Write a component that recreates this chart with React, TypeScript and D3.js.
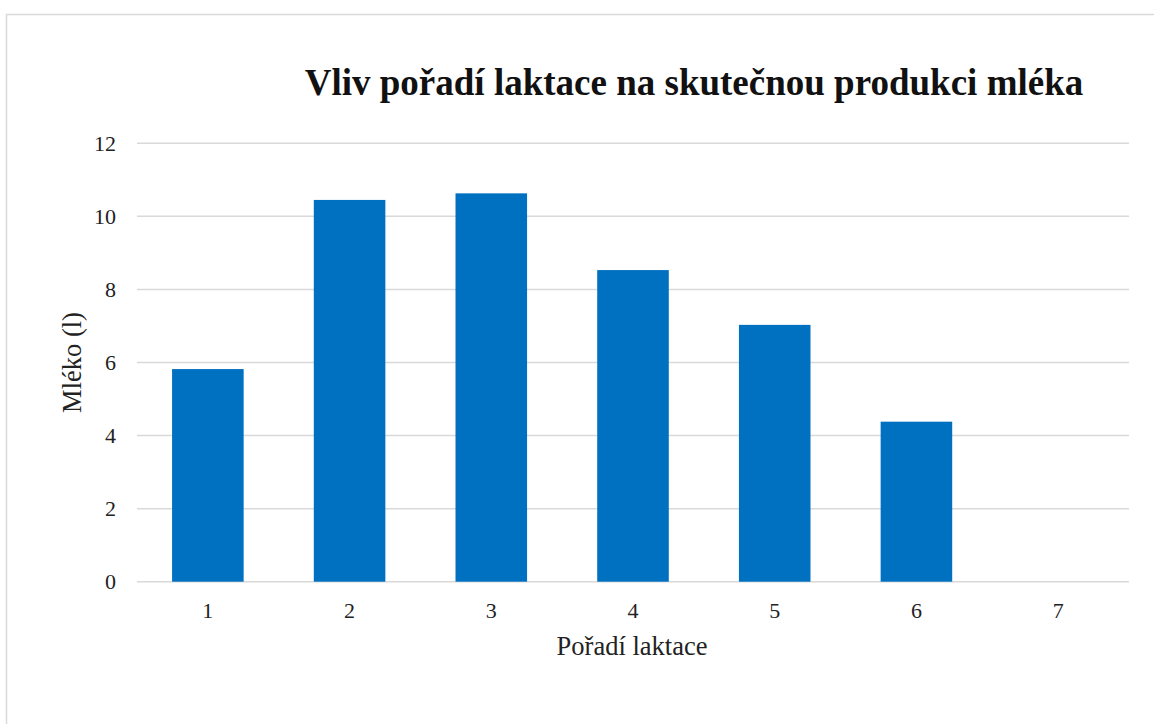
import React, { useEffect, useRef } from 'react';
import * as d3 from 'd3';

// Chart data
const categories = ['1', '2', '3', '4', '5', '6', '7'];
const milkValues = [5.82, 10.45, 10.63, 8.53, 7.03, 4.38, 0];
const yTicks = [0, 2, 4, 6, 8, 10, 12];

const titleText = 'Vliv pořadí laktace na skutečnou produkci mléka';
const xTitle = 'Pořadí laktace';
const yTitle = 'Mléko (l)';

const App = () => {
  const ref = useRef<SVGSVGElement>(null);

  useEffect(() => {
    const svg = d3.select(ref.current);
    svg.selectAll('*').remove();

    const font = '"Liberation Serif", "Times New Roman", serif';
    const left = 137;
    const right = 1129;
    const top = 143.3;
    const bottom = 581.7;

    // outer frame
    svg.append('rect')
      .attr('x', 6.5)
      .attr('y', 14.5)
      .attr('width', 1160)
      .attr('height', 720)
      .attr('fill', 'none')
      .attr('stroke', '#d9d9d9')
      .attr('stroke-width', 1.5);

    const x = d3.scaleBand()
      .domain(categories)
      .range([left, right])
      .paddingInner(0.495)
      .paddingOuter(0.2475);

    const y = d3.scaleLinear()
      .domain([0, 12])
      .range([bottom, top]);

    // gridlines
    svg.append('g')
      .selectAll('line')
      .data(yTicks)
      .enter()
      .append('line')
      .attr('x1', left)
      .attr('x2', right)
      .attr('y1', d => y(d))
      .attr('y2', d => y(d))
      .attr('stroke', '#d9d9d9')
      .attr('stroke-width', 1.5);

    // y tick labels
    svg.append('g')
      .selectAll('text')
      .data(yTicks)
      .enter()
      .append('text')
      .attr('x', 116)
      .attr('y', d => y(d))
      .attr('dy', '0.35em')
      .attr('text-anchor', 'end')
      .attr('font-family', font)
      .attr('font-size', 22)
      .attr('fill', '#222')
      .text(d => d);

    // bars
    svg.append('g')
      .selectAll('rect')
      .data(milkValues)
      .enter()
      .append('rect')
      .attr('x', (d, i) => x(categories[i]) as number)
      .attr('y', d => y(d))
      .attr('width', x.bandwidth())
      .attr('height', d => y(0) - y(d))
      .attr('fill', '#0070c0');

    // x tick labels
    svg.append('g')
      .selectAll('text')
      .data(categories)
      .enter()
      .append('text')
      .attr('x', d => (x(d) as number) + x.bandwidth() / 2)
      .attr('y', 618)
      .attr('text-anchor', 'middle')
      .attr('font-family', font)
      .attr('font-size', 22)
      .attr('fill', '#222')
      .text(d => d);

    // axis titles
    svg.append('text')
      .attr('x', 632)
      .attr('y', 655)
      .attr('text-anchor', 'middle')
      .attr('font-family', font)
      .attr('font-size', 26.5)
      .attr('fill', '#222')
      .text(xTitle);

    svg.append('text')
      .attr('transform', `translate(81,${(top + bottom) / 2}) rotate(-90)`)
      .attr('text-anchor', 'middle')
      .attr('font-family', font)
      .attr('font-size', 26.5)
      .attr('fill', '#222')
      .text(yTitle);

    // title
    svg.append('text')
      .attr('x', 694)
      .attr('y', 95)
      .attr('text-anchor', 'middle')
      .attr('font-family', font)
      .attr('font-size', 37)
      .attr('font-weight', 'bold')
      .attr('fill', '#111')
      .text(titleText);
  }, []);

  return (
    <svg
      ref={ref}
      width={1154}
      height={724}
      style={{ position: 'absolute', left: 0, top: 0, background: '#fff' }}
    />
  );
};

export default App;
